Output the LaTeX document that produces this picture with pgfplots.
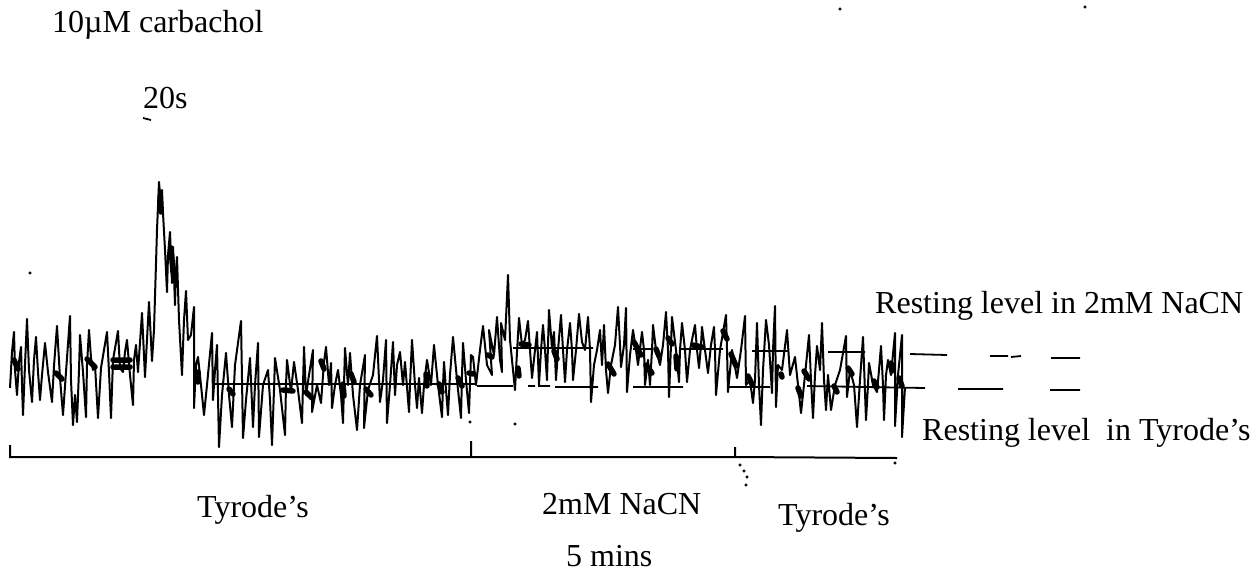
\documentclass[border=0pt]{standalone}
\usepackage{fontspec}
\setmainfont{Liberation Serif}
\usepackage{pgfplots}
\pgfplotsset{compat=1.18}

% everything is in pixel coordinates of the scanned trace (y runs downwards)
\pgfplotstableread{
x y
10 388
12 352
14 332
15 370
17 395
19 362
21 347
22 385
23 415
25 365
27 319
29 370
32 402
34 360
36 337
38 372
40 400
42 375
45 343
48 372
52 402
54 366
57 326
60 378
63 415
66 372
70 316
71 380
73 425
75 395
77 422
79 370
80 335
83 372
86 417
87 365
89 330
91 358
93 370
95 365
98 418
101 368
107 332
109 372
111 418
113 360
118 331
120 368
123 372
125 352
127 340
130 375
133 405
134 360
136 345
138 372
142 313
145 377
149 302
152 361
154 330
157 230
159 182
161 205
162 190
163 213
165 250
167 292
168 255
170 232
172 283
173 247
175 305
176 270
177 257
179 320
182 375
184 320
186 291
188 340
191 335
194 307
194 408
196 365
198 357
201 385
204 415
207 385
212 333
213 400
215 370
217 345
219 447
222 395
226 353
229 395
232 427
235 365
241 321
243 438
246 400
250 358
253 427
255 385
258 343
259 437
263 385
268 370
270 400
272 445
274 390
275 358
280 390
285 435
286 385
287 360
291 392
294 362
298 390
302 423
304 347
306 395
309 375
313 350
312 412
317 385
321 403
324 362
326 347
329 385
331 363
332 408
335 385
338 370
341 395
343 423
344 385
345 348
348 385
350 353
353 395
357 430
360 385
365 355
364 428
368 390
373 375
377 336
380 402
383 380
386 340
387 423
390 385
393 342
395 395
397 365
400 352
403 385
405 362
409 412
410 385
412 340
415 385
417 408
419 378
422 413
424 385
427 360
431 385
434 345
438 385
442 417
443 385
444 362
446 390
448 415
450 375
453 337
457 380
461 418
462 375
463 343
466 380
469 413
471 355
473 357
476 385
480 350
483 326
487 365
492 375
489 330
494 355
497 317
500 360
502 372
501 323
505 340
508 275
510 340
515 390
517 352
519 318
522 345
525 340
528 321
530 350
532 378
535 350
537 332
539 385
541 350
543 325
545 350
547 380
548 345
549 310
552 348
554 332
556 380
558 350
561 315
563 350
565 382
567 350
570 323
572 350
573 380
576 350
579 314
582 342
585 350
588 317
590 350
591 402
594 365
597 350
600 330
602 365
604 325
606 370
608 393
611 365
615 345
618 307
620 345
621 367
624 345
626 308
627 392
630 355
633 330
636 350
638 365
642 332
644 350
645 385
648 360
650 385
652 350
653 325
656 350
660 365
663 345
666 312
668 350
669 397
671 345
672 317
676 350
679 382
680 350
682 323
685 350
687 382
690 350
695 325
697 350
699 368
701 345
702 327
705 350
708 373
711 345
714 327
715 350
716 395
720 350
726 315
727 350
728 392
732 350
737 378
741 350
745 316
746 385
750 380
753 403
755 380
757 323
759 385
761 425
763 370
766 320
769 345
772 393
773 350
775 306
776 407
778 365
782 370
787 330
790 375
795 357
798 385
801 413
805 375
809 335
811 380
813 418
815 375
817 346
820 370
822 323
824 380
826 410
828 375
831 410
835 385
840 370
846 336
847 397
850 370
854 385
857 427
860 380
863 337
866 420
868 385
869 363
873 385
877 392
879 370
881 346
883 385
884 420
886 375
888 360
891 375
895 333
895 426
898 375
902 335
902 437
905 387
}\trace

\pgfplotstableread{
x y
14 360
18 369
nan nan
56 373
62 379
nan nan
87 359
95 367
nan nan
113 360
130 360
nan nan
113 367
130 367
nan nan
160 198
161 212
nan nan
171 248
173 272
nan nan
198 372
198 382
nan nan
229 389
233 394
nan nan
283 390
293 391
nan nan
306 392
312 398
nan nan
321 361
324 369
nan nan
343 384
344 396
nan nan
351 374
354 382
nan nan
366 389
371 395
nan nan
426 374
427 386
nan nan
439 384
442 392
nan nan
458 378
462 386
nan nan
469 373
474 374
nan nan
488 355
492 357
nan nan
518 368
519 376
nan nan
521 344
529 345
nan nan
554 351
557 359
nan nan
608 364
614 374
nan nan
634 342
641 355
nan nan
646 365
652 373
nan nan
656 349
659 356
nan nan
668 338
672 344
nan nan
676 356
677 369
nan nan
693 345
702 347
nan nan
723 331
727 339
nan nan
731 354
736 366
nan nan
748 376
752 384
nan nan
781 374
782 377
nan nan
798 388
801 396
nan nan
804 371
809 379
nan nan
834 386
837 392
nan nan
848 368
852 374
nan nan
874 381
877 387
nan nan
891 363
892 371
nan nan
899 378
902 386
}\blobs

\pgfplotstableread{
x y
213 384
475 384
nan nan
477 386
513 386
nan nan
528 386
535 386
nan nan
538 386
550 386
nan nan
555 387
598 387
nan nan
633 387
683 387
nan nan
727 387
770 387
nan nan
807 386
925 388
nan nan
513 348
593 348
nan nan
633 349
652 349
nan nan
680 349
723 349
nan nan
752 351
788 351
nan nan
828 352
865 352
nan nan
910 354
947 355
nan nan
990 356
1008 356
nan nan
1011 357
1021 356
nan nan
1051 358
1080 358
nan nan
958 389
1003 389
nan nan
1050 390
1080 390
nan nan
143 118
151 120
}\levels

\pgfplotstableread{
x y
10 445
10 457
471 457
471 441
471 457
735 457
735 447
735 457
897 458
}\timebar

\pgfplotstableread{
x y
30 273
840 9
1085 7
895 463
470 422
515 424
740 465
744 471
747 477
746 485
}\specks

\tikzset{lbl/.style={font=\fontsize{32}{36}\selectfont, anchor=base west, inner sep=0pt, black}}

\begin{document}
\begin{tikzpicture}
\useasboundingbox (0,0) rectangle (1256pt,571pt);
\begin{axis}[
    scale only axis, width=1256pt, height=571pt,
    xmin=0, xmax=1256, ymin=0, ymax=571,
    y dir=reverse, axis lines=none,
    unbounded coords=jump,
]
\addplot[black, line width=2pt, line join=round, no markers] table {\trace};
\addplot[black, line width=5.5pt, line cap=round, no markers] table {\blobs};
\addplot[black, line width=1.8pt, no markers] table {\levels};
\addplot[black, line width=2pt, no markers] table {\timebar};
\addplot[black, only marks, mark=*, mark size=1.3pt] table {\specks};
\node[lbl] at (axis cs:52,32) {10µM carbachol};
\node[lbl] at (axis cs:143,108) {20s};
\node[lbl] at (axis cs:875,313) {Resting level in 2mM NaCN};
\node[lbl] at (axis cs:922,440) {Resting level\ \ in Tyrode's};
\node[lbl] at (axis cs:197,517) {Tyrode's};
\node[lbl] at (axis cs:542,514) {2mM NaCN};
\node[lbl] at (axis cs:778,525) {Tyrode's};
\node[lbl] at (axis cs:566,566) {5 mins};
\end{axis}
\end{tikzpicture}
\end{document}
